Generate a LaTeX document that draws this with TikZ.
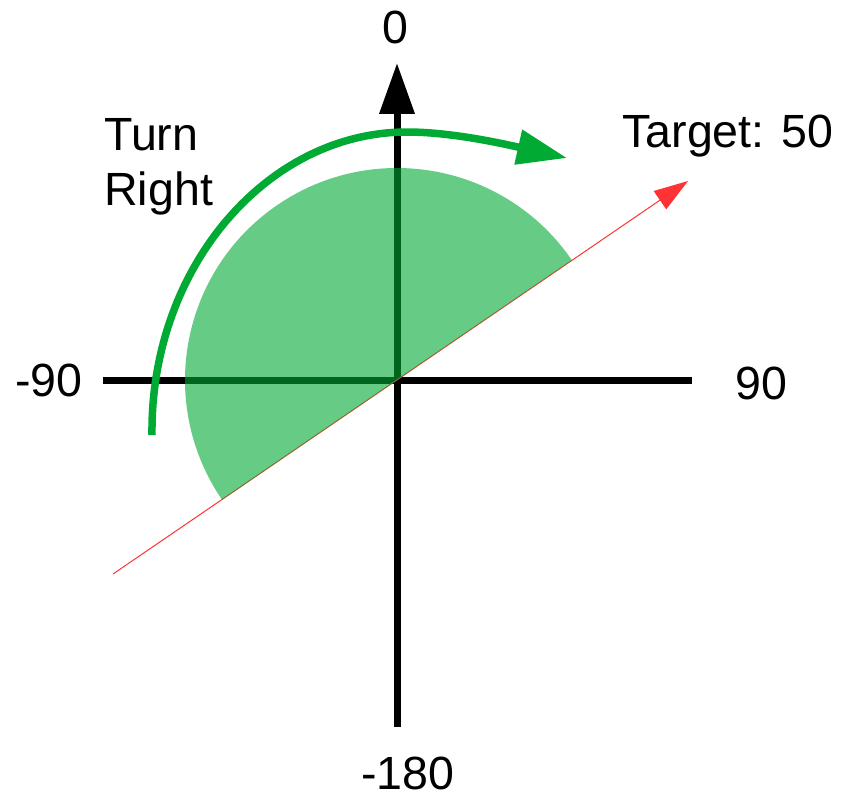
\documentclass[tikz,border=0pt]{standalone}
\usepackage{fontspec}
\setmainfont{Liberation Sans}
\usetikzlibrary{arrows.meta}
\definecolor{turngreen}{HTML}{00AA33}
\definecolor{targetred}{HTML}{FF3333}
\tikzset{
  axis/.style={line width=0.14cm, black},
  axisarrow/.style={axis, -{Triangle[length=1.02cm, width=0.68cm]}},
  turnarrow/.style={line width=0.15cm, turngreen, -{Triangle[length=1.0cm, width=0.68cm]}},
  targetarrow/.style={line width=0.02cm, targetred, -{Triangle[length=0.68cm, width=0.44cm]}},
  sector/.style={fill=turngreen, fill opacity=0.6},
  lbl/.style={inner sep=0pt, font=\fontsize{26.5}{31.3}\selectfont}
}

\begin{document}
\begin{tikzpicture}[x=0.02cm, y=-0.02cm]
    \useasboundingbox (0,0) rectangle (847,799);

    \coordinate (o) at (397,380);
    \coordinate (top) at (397,63);
    \coordinate (bottom) at (397,727);
    \coordinate (left) at (103,380);
    \coordinate (right) at (692,380);
    \coordinate (tail) at (113,574);
    \coordinate (tip) at (688,181);
    \coordinate (turnstart) at (152,435);
    \coordinate (turnmid) at (407,132);
    \coordinate (turnend) at (567,158);

    % Ejes
    \draw [axis] (left) -- (right);
    \draw [axisarrow] (bottom) -- (top);

    % Objetivo
    \draw [targetarrow] (tail) -- (tip);

    % Sector
    \fill [sector] (o) -- ++(-34.4:212) arc[start angle=-34.4, end angle=-214.4, radius=212] -- cycle;

    % Giro
    \draw [turnarrow] (turnstart) .. controls (150,268) and (267,132) .. (turnmid)
        .. controls (450,132) and (500,143) .. (turnend);

    % Etiquetas
    \node (n0) [lbl, anchor=base] at (395,43) {0};
    \node (n90) [lbl, anchor=base west] at (735,399) {90};
    \node (nm90) [lbl, anchor=base east] at (83,396) {-90};
    \node (nm180) [lbl, anchor=base] at (408,789) {-180};
    \node (turnlbl) [lbl, align=left, anchor=north west] at (104,118) {Turn\\Right};
    \node (target) [lbl, anchor=base west] at (622,147) {Target: 50};

\end{tikzpicture}
\end{document}
